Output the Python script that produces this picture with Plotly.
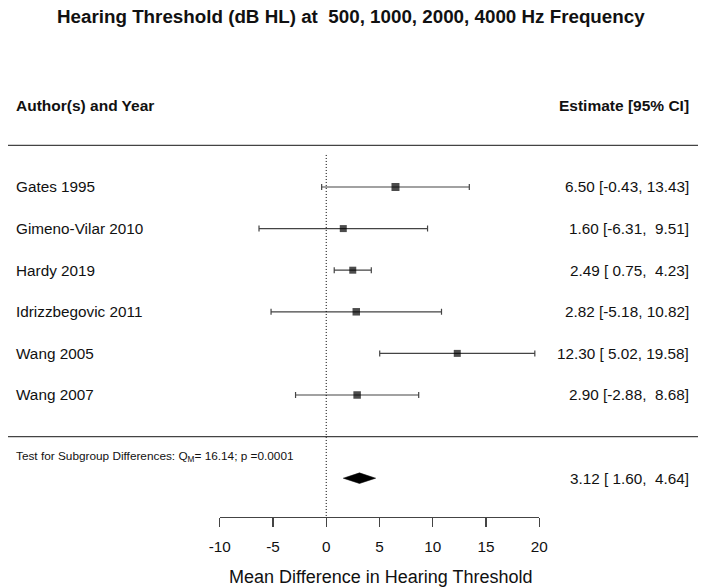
import plotly.graph_objects as go

# ---- data ----
studies = ["Gates 1995", "Gimeno-Vilar 2010", "Hardy 2019", "Idrizzbegovic 2011", "Wang 2005", "Wang 2007"]
estimates = [6.50, 1.60, 2.49, 2.82, 12.30, 2.90]
ci_low = [-0.43, -6.31, 0.75, -5.18, 5.02, -2.88]
ci_high = [13.43, 9.51, 4.23, 10.82, 19.58, 8.68]
pooled_est = 3.12
pooled_low = 1.60
pooled_high = 4.64
q_m = 16.14
p_val = "0.0001"
x_ticks = [-10, -5, 0, 5, 10, 15, 20]

# ---- styles ----
square_px = [8, 7, 7, 7.5, 7, 7.5]
FONT = "Liberation Sans, Arial, sans-serif"
W, H = 708, 588
LINE = "#444444"
TXT = "#111111"

rows = list(range(len(studies)))
y_top, y_bot = 7.933, -4.495  # row-unit range (reversed)


def fmt(e, l, h):
    s = f"{e:.2f} [{l:5.2f}, {h:5.2f}]"
    return s.replace(" ", "\u00a0")


fig = go.Figure()

# confidence intervals
fig.add_trace(go.Scatter(
    x=estimates, y=rows, mode="markers",
    marker=dict(size=1, color="rgba(0,0,0,0)"),
    error_x=dict(type="data", symmetric=False,
                 array=[h - e for h, e in zip(ci_high, estimates)],
                 arrayminus=[e - l for e, l in zip(estimates, ci_low)],
                 color=LINE, thickness=1.2, width=3),
    hoverinfo="skip", showlegend=False,
))
# point estimates on top
fig.add_trace(go.Scatter(
    x=estimates, y=rows, mode="markers",
    marker=dict(symbol="square", size=square_px, color="black", line=dict(width=0)),
    hoverinfo="skip", showlegend=False,
))

# pooled diamond
pr = len(studies) + 1
hh = 0.128
fig.add_trace(go.Scatter(
    x=[pooled_low, pooled_est, pooled_high, pooled_est, pooled_low],
    y=[pr, pr - hh, pr, pr + hh, pr],
    mode="lines", fill="toself", fillcolor="black",
    line=dict(color="black", width=0.5),
    hoverinfo="skip", showlegend=False,
))

shapes = [
    dict(type="line", xref="x", yref="y", x0=0, x1=0, y0=-0.77, y1=y_top,
         line=dict(color="black", width=1, dash="1px,2px")),
    dict(type="line", xref="paper", yref="y", x0=8 / W, x1=698 / W, y0=-1, y1=-1,
         line=dict(color=LINE, width=1.4)),
    dict(type="line", xref="paper", yref="y", x0=8 / W, x1=698 / W, y0=len(studies), y1=len(studies),
         line=dict(color=LINE, width=1.4)),
]

ann = []
for r, s, e, l, h in zip(rows, studies, estimates, ci_low, ci_high):
    ann.append(dict(x=14 / W, y=r, xref="paper", yref="y", text=s, showarrow=False,
                    xanchor="left", yanchor="middle", font=dict(family=FONT, size=15.3, color=TXT)))
    ann.append(dict(x=691 / W, y=r, xref="paper", yref="y", text=fmt(e, l, h), showarrow=False,
                    xanchor="right", yanchor="middle", font=dict(family=FONT, size=15.3, color=TXT)))

ann.append(dict(x=691 / W, y=pr, xref="paper", yref="y",
                text=fmt(pooled_est, pooled_low, pooled_high), showarrow=False,
                xanchor="right", yanchor="middle", font=dict(family=FONT, size=15.3, color=TXT)))
ann.append(dict(x=14 / W, y=len(studies) + 0.47, xref="paper", yref="y",
                text=f"Test for Subgroup Differences: Q<sub>M</sub>= {q_m:.2f}; p =" + p_val,
                showarrow=False, xanchor="left", yanchor="middle",
                font=dict(family=FONT, size=11.8, color=TXT)))
ann.append(dict(x=14 / W, y=-1.95, xref="paper", yref="y", text="<b>Author(s) and Year</b>",
                showarrow=False, xanchor="left", yanchor="middle",
                font=dict(family=FONT, size=15.5, color=TXT)))
ann.append(dict(x=691 / W, y=-1.95, xref="paper", yref="y", text="<b>Estimate [95% CI]</b>",
                showarrow=False, xanchor="right", yanchor="middle",
                font=dict(family=FONT, size=15.5, color=TXT)))
ann.append(dict(x=351 / W, y=-4.09, xref="paper", yref="y",
                text="<b>Hearing Threshold (dB HL) at\u00a0\u00a0500, 1000, 2000, 4000 Hz Frequency</b>",
                showarrow=False, xanchor="center", yanchor="middle",
                font=dict(family=FONT, size=18.8, color=TXT)))
ann.append(dict(x=381 / W, y=-60 / 517, xref="paper", yref="paper",
                text="Mean Difference in Hearing Threshold",
                showarrow=False, xanchor="center", yanchor="middle",
                font=dict(family=FONT, size=18, color=TXT)))

fig.update_layout(
    width=W, height=H,
    margin=dict(l=0, r=0, t=0, b=71, pad=0, autoexpand=False),
    paper_bgcolor="white", plot_bgcolor="white",
    showlegend=False,
    shapes=shapes, annotations=ann,
    xaxis=dict(domain=[219.7 / W, 539.3 / W], range=[-10, 20], tickvals=x_ticks,
               ticktext=[str(t) for t in x_ticks], automargin=False,
               ticks="outside", ticklen=9, tickwidth=1.2, tickcolor=LINE,
               showline=True, linecolor=LINE, linewidth=1.2,
               showgrid=False, zeroline=False, ticklabelstandoff=6,
               tickfont=dict(family=FONT, size=15.3, color=TXT), fixedrange=True),
    yaxis=dict(range=[y_top, y_bot], visible=False, showgrid=False, zeroline=False,
               automargin=False, fixedrange=True),
)

fig.write_html(
    "out.html",
    config={"displayModeBar": False, "staticPlot": True},
    post_script="document.body.style.margin='0';document.body.style.overflow='hidden';",
)
